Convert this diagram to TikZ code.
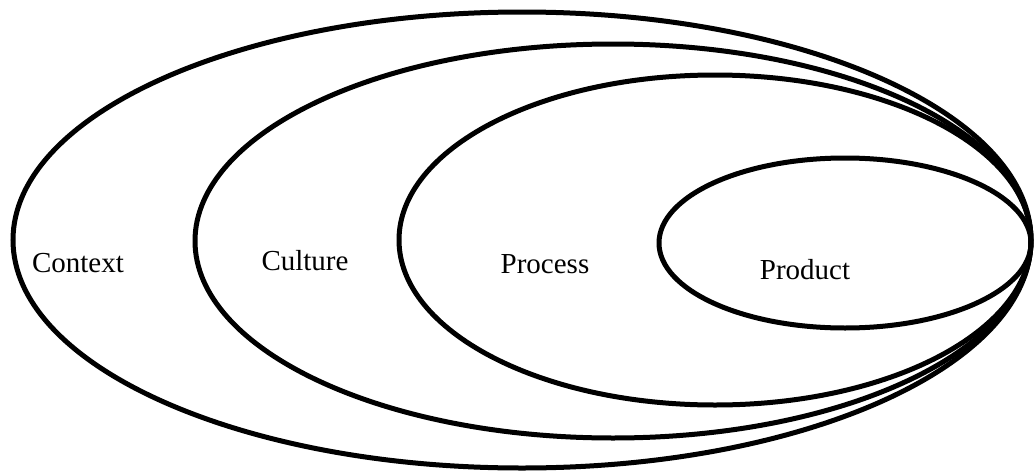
\documentclass[tikz,border=0pt]{standalone}
\usepackage{fontspec}
\setmainfont{Liberation Serif}
\begin{document}
\begin{tikzpicture}[x=1pt,y=-1pt,
  ring/.style={draw=black,line width=5pt},
  lab/.style={font=\fontsize{29}{32}\selectfont,inner sep=0pt}]
\useasboundingbox[fill=white] (0,0) rectangle (1034,474);
\draw[ring] (522,240) ellipse [x radius=509, y radius=228];
\draw[ring] (613,241) ellipse [x radius=418, y radius=197];
\draw[ring] (715,240) ellipse [x radius=316, y radius=165];
\draw[ring] (845,243) ellipse [x radius=186, y radius=85];
\node[lab] (context) at (78,263) {Context};
\node[lab] (culture) at (305,261) {Culture};
\node[lab] (process) at (545,264) {Process};
\node[lab] (product) at (805,270) {Product};
\end{tikzpicture}
\end{document}
